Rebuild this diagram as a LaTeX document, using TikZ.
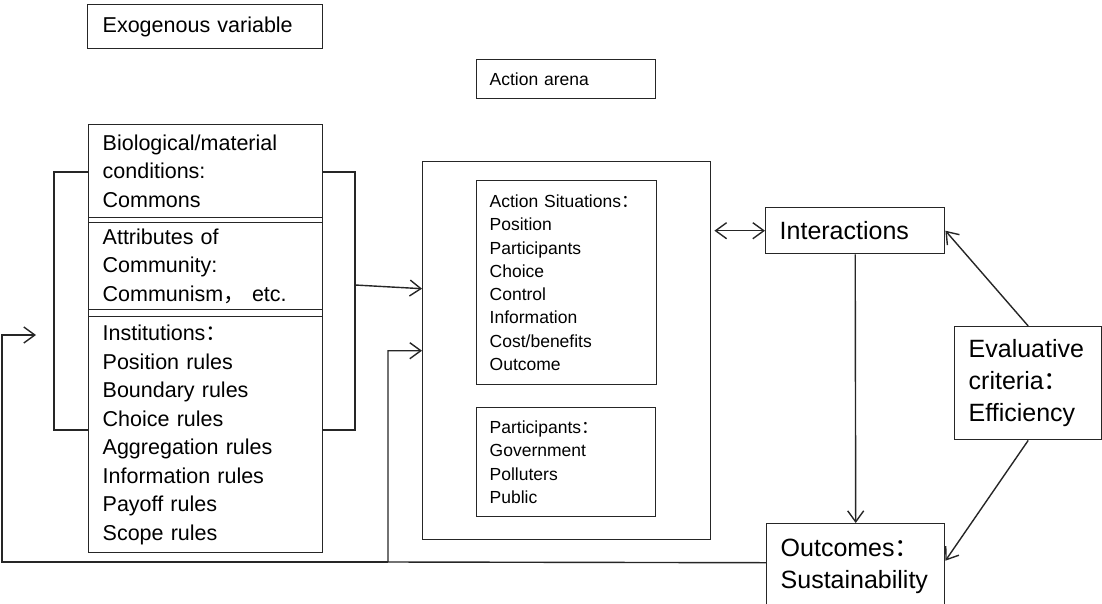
\documentclass[tikz,border=0pt]{standalone}
\usepackage{fontspec}
\setmainfont{Liberation Sans}
\newfontfamily\cjk{Noto Sans CJK SC}
\usepackage{tikz}
\usetikzlibrary{positioning}
\usetikzlibrary{arrows.meta}

\begin{document}
\begin{tikzpicture}
  [
    x=1pt, y=-1pt, line width=1.4pt,
    >={Straight Barb[length=11pt,width=16pt]},
    box/.style={draw=black!85, rectangle, anchor=north west,
      inner xsep=14pt, inner ysep=0pt, align=left},
    big/.style={box, text width=206pt,
      font=\fontsize{21.5}{28.5}\selectfont},
    small/.style={box, inner xsep=13pt,
      font=\fontsize{17.5}{23.3}\selectfont},
    large/.style={box, font=\fontsize{25}{32}\selectfont},
    ln/.style={draw=black!85}
  ]

  \useasboundingbox (0,0) rectangle (1102,603);
  \clip (0,0) rectangle (1102,603);

  \node (exotitle)   at ( 87,  4) [big, text width=205pt, inner xsep=15pt,
                                   minimum height=44pt] {Exogenous variable};
  \node (arenatitle) at (476, 59) [small, text width=153pt,
                                   minimum height=39pt] {Action arena};

  \node (exo)  at ( 88,124) [box, minimum width=234pt, minimum height=428pt] {};
  \node (bio)  at ( 88,124) [big, minimum height=93pt]
        {Biological/material\\conditions:\\Commons};
  \node (comm) at ( 88,222) [big, minimum height=87pt]
        {Attributes of\\Community:\\Communism{\cjk ，} etc.};
  \node (inst) at ( 88,316) [big, minimum height=236pt]
        {Institutions{\cjk ：}\\Position rules\\Boundary rules\\Choice rules\\
         Aggregation rules\\Information rules\\Payoff rules\\Scope rules};

  \node (arena) at (422,161) [box, minimum width=288pt, minimum height=378pt] {};
  \node (situ)  at (476,180) [small, text width=154pt, minimum height=204pt]
        {Action Situations{\cjk ：}\\Position\\Participants\\Choice\\Control\\
         Information\\Cost/benefits\\Outcome};
  \node (part)  at (476,407) [small, text width=153pt, minimum height=109pt]
        {Participants{\cjk ：}\\Government\\Polluters\\Public};

  \node (inter) at (765,207) [large, text width=151pt, minimum height=46pt]
        {Interactions};
  \node (eval)  at (954,326) [large, text width=119pt, minimum height=113pt]
        {Evaluative\\criteria{\cjk ：}\\Efficiency};
  \node (outc)  at (766,523) [large, text width=150pt, minimum height=85pt]
        {Outcomes{\cjk ：}\\Sustainability};

  \coordinate (lt)   at ( 54,172);
  \coordinate (lb)   at ( 54,430);
  \coordinate (rt)   at (355,172);
  \coordinate (rb)   at (355,430);
  \coordinate (rm)   at (355,285);
  \coordinate (fb)   at (388,562);
  \coordinate (fl)   at (  2,562);
  \coordinate (back) at ( 36,335);

  \draw [ln] (lt -| exo.west) -- (lt) -- (lb) -- (lb -| exo.west);
  \draw [ln] (rt -| exo.east) -- (rt) -- (rb) -- (rb -| exo.east);
  \draw [ln, ->] (rm) -- ([yshift=62pt]arena.west);

  \draw [ln, ->] ([yshift=3.5pt]outc.west) -- (fb) |- (arena.west);
  \draw [ln, ->] (fb) -- (fl) |- (back);

  \draw [ln, <->, shorten <=3pt] (arena.east |- inter.west) -- (inter.west);
  \draw [ln, ->] (inter.south) -- (outc.north);
  \draw [ln, ->] (eval.north) -- (inter.east);
  \draw [ln, ->] (eval.south) -- ([yshift=5.5pt]outc.east);
\end{tikzpicture}
\end{document}
